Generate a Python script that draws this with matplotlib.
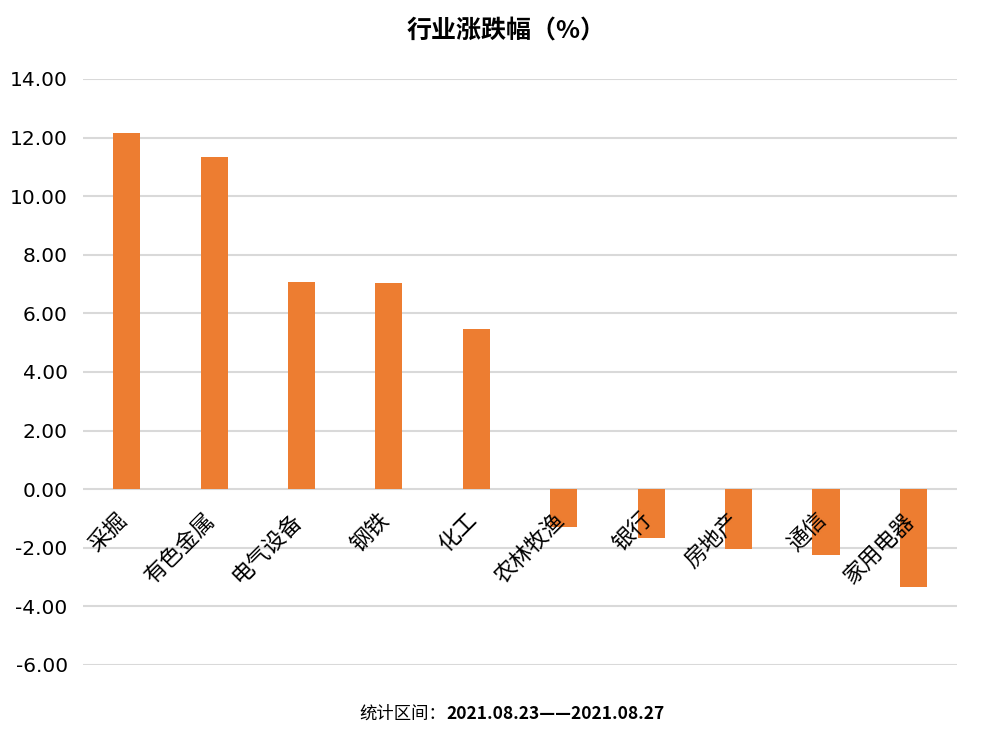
import matplotlib
matplotlib.use("Agg")
import matplotlib.pyplot as plt
import numpy as np

plt.rcParams['font.family'] = ['Noto Sans CJK SC', 'DejaVu Sans']

categories = ['采掘', '有色金属', '电气设备', '钢铁', '化工', '农林牧渔', '银行', '房地产', '通信', '家用电器']
values = [12.16, 11.34, 7.08, 7.05, 5.45, -1.29, -1.67, -2.04, -2.25, -3.34]
yticks = [14, 12, 10, 8, 6, 4, 2, 0, -2, -4, -6]
title = '行业涨跌幅（%）'
footer_cn = '统计区间：'
footer_num = '2021.08.23——2021.08.27'

fig = plt.figure(figsize=(9.81, 7.36), dpi=100)
ax = fig.add_axes([0.0846, 0.0965, 0.891, 0.7962])

x = np.arange(len(categories))
ax.bar(x, values, width=0.31, color='#ED7D31', zorder=3)

ax.set_xlim(-0.5, len(categories) - 0.5)
ax.set_ylim(-6, 14)
ax.set_yticks(yticks)
ax.set_yticklabels([f'{v:.2f}' for v in yticks], fontsize=14.5, color='#000000',
                   family=['DejaVu Sans'])
ax.tick_params(axis='y', length=0, pad=11)
ax.set_xticks([])
ax.grid(axis='y', color='#d9d9d9', linewidth=1.5, zorder=0)
for s in ax.spines.values():
    s.set_visible(False)

for i, c in enumerate(categories):
    ax.annotate(c, xy=(i, 0), xytext=(-8, -14), textcoords='offset points',
                rotation=45, ha='right', va='top', rotation_mode='anchor',
                fontsize=16, color='#000000', zorder=4)

fig.text(0.516, 0.957, title, ha='center', va='center', fontsize=18, fontweight='bold')

# footer: Chinese part normal, numbers bold
fig.canvas.draw()
r = fig.canvas.get_renderer()
t1 = fig.text(0, 0.030, footer_cn, ha='left', va='center', fontsize=12.5)
t2 = fig.text(0, 0.030, footer_num, ha='left', va='center', fontsize=12.5, fontweight='bold')
w1 = t1.get_window_extent(r).width
w2 = t2.get_window_extent(r).width
W = fig.bbox.width
start = 512 - (w1 + w2) / 2
t1.set_x(start / W)
t2.set_x((start + w1) / W)

fig.savefig('out.png', dpi=100)
